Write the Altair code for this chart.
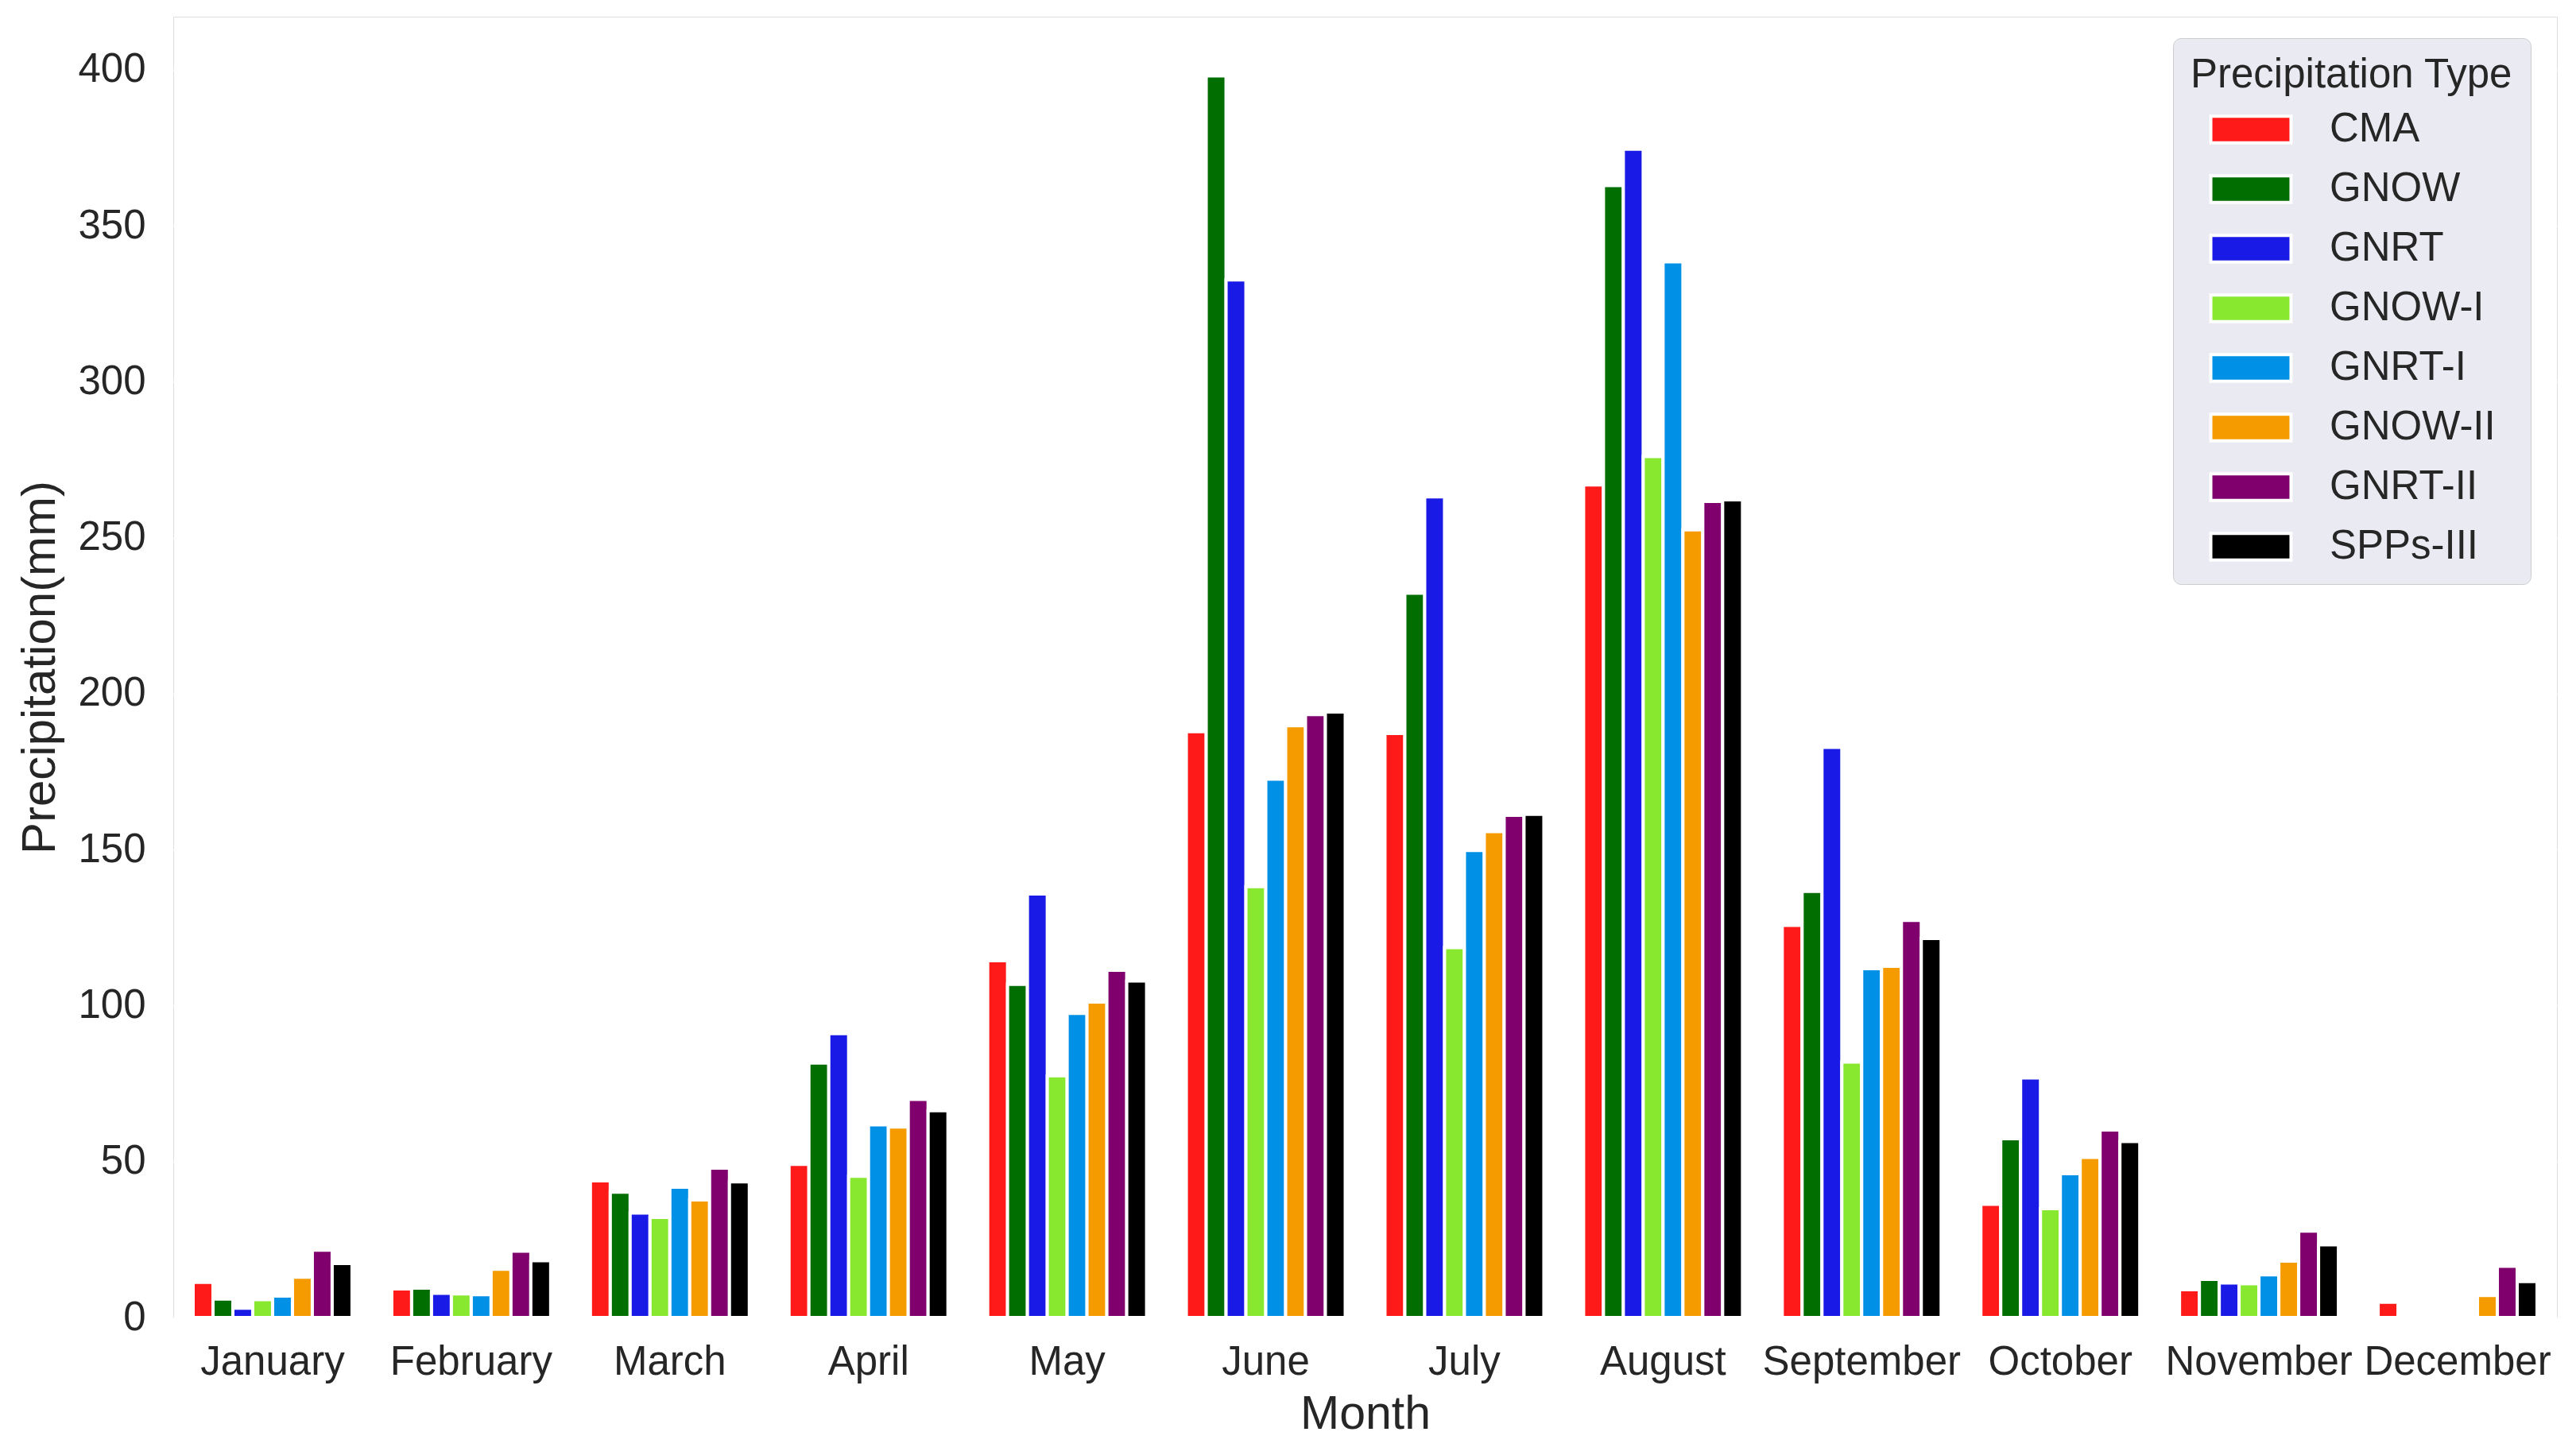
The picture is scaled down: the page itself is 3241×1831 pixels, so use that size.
import altair as alt
import pandas as pd

months = ["January", "February", "March", "April", "May", "June", "July",
          "August", "September", "October", "November", "December"]
types = ["CMA", "GNOW", "GNRT", "GNOW-I", "GNRT-I", "GNOW-II", "GNRT-II", "SPPs-III"]
colors = ["#FF1A1A", "#006E00", "#1A1AE6", "#88E830", "#0090E6", "#F59B00", "#80006E", "#000000"]

cma      = [11.3, 9.2, 43.8, 49.1, 114.4, 187.8, 187.2, 266.9, 125.7, 36.3, 8.9, 4.9]
gnow     = [5.9, 9.4, 40.2, 81.6, 106.8, 398.0, 232.2, 362.9, 136.6, 57.3, 12.2, 0.9]
gnrt     = [3.0, 7.8, 33.5, 91.0, 135.8, 332.6, 263.1, 374.5, 182.8, 76.8, 11.1, 0.5]
gnow_i   = [5.7, 7.6, 32.1, 45.3, 77.5, 138.1, 118.6, 276.0, 81.9, 34.9, 10.8, 0.2]
gnrt_i   = [6.9, 7.3, 41.8, 61.8, 97.5, 172.6, 149.7, 338.4, 111.8, 46.1, 13.7, 0.5]
gnow_ii  = [12.9, 15.5, 37.7, 61.1, 101.1, 189.7, 155.8, 252.5, 112.6, 51.3, 18.1, 7.1]
gnrt_ii  = [21.6, 21.3, 47.9, 69.9, 111.3, 193.3, 161.0, 261.6, 127.3, 60.1, 27.7, 16.4]
spps_iii = [17.3, 18.2, 43.5, 66.3, 107.9, 194.1, 161.3, 262.1, 121.5, 56.4, 23.3, 11.5]

series = [cma, gnow, gnrt, gnow_i, gnrt_i, gnow_ii, gnrt_ii, spps_iii]
rows = []
for t, vals in zip(types, series):
    for m, v in zip(months, vals):
        rows.append({"Month": m, "Type": t, "Precipitation": v})
df = pd.DataFrame(rows)

FONT = "Liberation Sans"
TXT = "#262626"

chart = alt.Chart(df).mark_bar(stroke="white", strokeWidth=4).encode(
    x=alt.X("Month:N", sort=months, title="Month",
            scale=alt.Scale(paddingInner=0, paddingOuter=0),
            axis=alt.Axis(labelAngle=0, labelFontSize=51, labelPadding=31,
                          labelLimit=0, labelFont=FONT, labelColor=TXT,
                          titleFont=FONT, titleColor=TXT,
                          titleFontWeight="normal",
                          titleFontSize=59, titlePadding=11, grid=False,
                          ticks=False, domain=False)),
    xOffset=alt.XOffset("Type:N", sort=types,
                        scale=alt.Scale(paddingInner=0, paddingOuter=1)),
    y=alt.Y("Precipitation:Q", title="Precipitation(mm)",
            scale=alt.Scale(domain=[0, 417], nice=False, zero=True),
            axis=alt.Axis(values=list(range(0, 401, 50)), labelFontSize=51,
                          labelFont=FONT, labelColor=TXT, labelLimit=0,
                          titleFont=FONT, titleColor=TXT,
                          titleFontWeight="normal",
                          labelPadding=35, titleFontSize=60, titlePadding=16,
                          ticks=False, domain=False, grid=True,
                          gridColor="white", gridWidth=3)),
    color=alt.Color("Type:N", sort=types,
                    scale=alt.Scale(domain=types, range=colors),
                    legend=alt.Legend(
                        title="Precipitation Type", orient="none",
                        legendX=2516, legendY=27,
                        titleFontSize=51, titleFontWeight="normal",
                        titleColor=TXT, titleFont=FONT, titlePadding=6,
                        titleLimit=0, labelLimit=0,
                        labelFontSize=51, labelColor=TXT, labelFont=FONT,
                        labelOffset=63,
                        symbolType="M-1.5,-0.5H1.5V0.5H-1.5Z",
                        symbolSize=4530, symbolStrokeColor="white",
                        symbolStrokeWidth=4, symbolOffset=40,
                        rowPadding=14, padding=22,
                        fillColor="#EAEAF2", strokeColor="#CCCCCC",
                        cornerRadius=10)),
).properties(
    width=2999, height=1637,
    autosize=alt.AutoSizeParams(type="none"),
    padding={"left": 210, "top": 13, "right": 16, "bottom": 170},
).configure_view(
    fill="#EAEAF2", strokeWidth=0
).configure(background="white")

chart.save("out.html", embed_options={"renderer": "svg", "actions": False})
